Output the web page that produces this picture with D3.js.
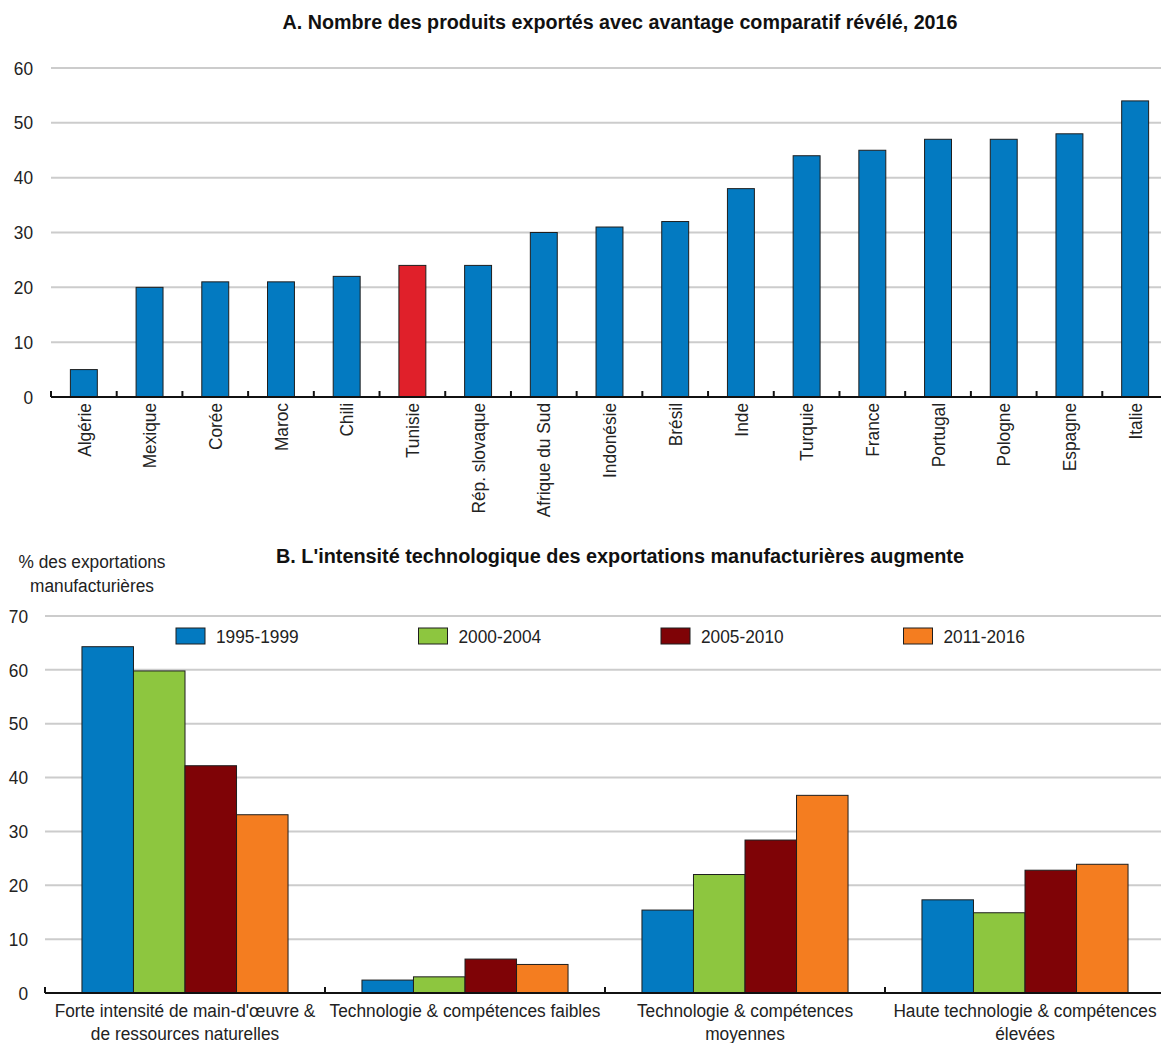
<!DOCTYPE html>
<meta charset="utf-8">
<script src="https://d3js.org/d3.v7.min.js"></script>
<style>
  body { margin: 0; background: #fff; }
  text { font-family: "Liberation Sans", Arial, sans-serif; font-size: 19px; fill: #222; }
  .title { font-weight: bold; font-size: 19.5px; fill: #111; }
  .grid line { stroke: #cccccc; stroke-width: 2px; }
</style>
<div id="chart"></div>
<script>

  // panel A data
  var countries = ["Algérie", "Mexique", "Corée", "Maroc", "Chili", "Tunisie", "Rép. slovaque",
    "Afrique du Sud", "Indonésie", "Brésil", "Inde", "Turquie", "France", "Portugal",
    "Pologne", "Espagne", "Italie"];
  var products = [5, 20, 21, 21, 22, 24, 24, 30, 31, 32, 38, 44, 45, 47, 47, 48, 54];
  var highlight = "Tunisie";
  var ticksA = [0, 10, 20, 30, 40, 50, 60];

  // panel B data
  var groups = [
    ["Forte intensité de main-d'œuvre &", "de ressources naturelles"],
    ["Technologie & compétences faibles"],
    ["Technologie & compétences", "moyennes"],
    ["Haute technologie & compétences", "élevées"]
  ];
  var periods = ["1995-1999", "2000-2004", "2005-2010", "2011-2016"];
  var s1995 = [64.3, 2.4, 15.4, 17.3];
  var s2000 = [59.8, 3.0, 22.0, 14.9];
  var s2005 = [42.2, 6.3, 28.4, 22.8];
  var s2011 = [33.1, 5.3, 36.7, 23.9];
  var ticksB = [0, 10, 20, 30, 40, 50, 60, 70];

  var colors = ["#037ac1", "#8dc63f", "#7f0306", "#f47d20"];
  var sx = 0.91; // narrow the text a bit, like Arial Narrow

  var svg = d3.select("#chart").append("svg")
    .attr("width", 1161)
    .attr("height", 1043);

  function place(x, y, rot) {
    return "translate(" + x + "," + y + ")" + (rot ? " rotate(" + rot + ")" : "") + " scale(" + sx + ",1)";
  }

  // ---------- Panel A ----------
  var xA = d3.scaleBand()
    .domain(countries)
    .range([51, 1168])
    .paddingInner(0.59)
    .paddingOuter(0.295);
  var yA = d3.scaleLinear().domain([0, 60]).range([397, 68]);

  svg.append("text")
    .attr("class", "title")
    .attr("x", 620).attr("y", 29)
    .attr("text-anchor", "middle")
    .attr("textLength", 675)
    .attr("lengthAdjust", "spacingAndGlyphs")
    .text("A. Nombre des produits exportés avec avantage comparatif révélé, 2016");

  svg.append("g").attr("class", "grid")
    .selectAll("line").data(ticksA.filter(function(d) { return d > 0; }))
    .enter().append("line")
      .attr("x1", 51).attr("x2", 1161)
      .attr("y1", function(d) { return yA(d); })
      .attr("y2", function(d) { return yA(d); });

  svg.append("g").selectAll("text").data(ticksA)
    .enter().append("text")
      .attr("transform", function(d) { return place(33, yA(d)); })
      .attr("dy", "0.35em")
      .attr("text-anchor", "end")
      .text(function(d) { return d; });

  svg.append("g").selectAll("rect").data(countries)
    .enter().append("rect")
      .attr("x", function(d) { return xA(d); })
      .attr("y", function(d, i) { return yA(products[i]); })
      .attr("width", xA.bandwidth())
      .attr("height", function(d, i) { return yA(0) - yA(products[i]); })
      .attr("fill", function(d) { return d === highlight ? "#e0202a" : "#037ac1"; })
      .attr("stroke", "#1e1e1e")
      .attr("stroke-width", 1);

  // axis line and ticks
  svg.append("line")
    .attr("x1", 51).attr("x2", 1161)
    .attr("y1", yA(0)).attr("y2", yA(0))
    .attr("stroke", "#111").attr("stroke-width", 2);
  svg.append("g").selectAll("line").data(countries)
    .enter().append("line")
      .attr("x1", function(d) { return xA(d) - xA.step() * 0.295; })
      .attr("x2", function(d) { return xA(d) - xA.step() * 0.295; })
      .attr("y1", yA(0)).attr("y2", yA(0) - 6)
      .attr("stroke", "#111").attr("stroke-width", 2);

  svg.append("g").selectAll("text").data(countries)
    .enter().append("text")
      .attr("transform", function(d) { return place(xA(d) + xA.bandwidth() / 2, yA(0) + 6, -90); })
      .attr("dy", "0.35em")
      .attr("text-anchor", "end")
      .text(function(d) { return d; });

  // ---------- Panel B ----------
  var series = [s1995, s2000, s2005, s2011];
  var idx = d3.range(groups.length);
  var xB = d3.scaleBand()
    .domain(idx)
    .range([45, 1165])
    .paddingInner(0.264)
    .paddingOuter(0.132);
  var xInner = d3.scaleBand().domain(d3.range(periods.length)).range([0, xB.bandwidth()]);
  var yB = d3.scaleLinear().domain([0, 70]).range([993, 616]);

  svg.append("text")
    .attr("class", "title")
    .attr("x", 620).attr("y", 563)
    .attr("text-anchor", "middle")
    .attr("textLength", 688)
    .attr("lengthAdjust", "spacingAndGlyphs")
    .text("B. L'intensité technologique des exportations manufacturières augmente");

  svg.append("text").attr("transform", place(92, 568)).attr("text-anchor", "middle").text("% des exportations");
  svg.append("text").attr("transform", place(92, 592)).attr("text-anchor", "middle").text("manufacturières");

  svg.append("g").attr("class", "grid")
    .selectAll("line").data(ticksB.filter(function(d) { return d > 0; }))
    .enter().append("line")
      .attr("x1", 45).attr("x2", 1161)
      .attr("y1", function(d) { return yB(d); })
      .attr("y2", function(d) { return yB(d); });

  svg.append("g").selectAll("text").data(ticksB)
    .enter().append("text")
      .attr("transform", function(d) { return place(28, yB(d)); })
      .attr("dy", "0.35em")
      .attr("text-anchor", "end")
      .text(function(d) { return d; });

  // legend
  var legend = svg.append("g").selectAll("g").data(periods)
    .enter().append("g")
      .attr("transform", function(d, i) { return "translate(" + (176 + i * 242.5) + ",628)"; });
  legend.append("rect")
    .attr("width", 29).attr("height", 16)
    .attr("fill", function(d, i) { return colors[i]; })
    .attr("stroke", "#1e1e1e").attr("stroke-width", 1);
  legend.append("text")
    .attr("transform", place(40, 8))
    .attr("dy", "0.35em")
    .text(function(d) { return d; });

  var bars = svg.append("g").selectAll("g").data(idx)
    .enter().append("g")
      .attr("transform", function(g) { return "translate(" + xB(g) + ",0)"; });
  bars.selectAll("rect")
    .data(function(g) { return series.map(function(s, k) { return { k: k, v: s[g] }; }); })
    .enter().append("rect")
      .attr("x", function(d) { return xInner(d.k); })
      .attr("y", function(d) { return yB(d.v); })
      .attr("width", xInner.bandwidth())
      .attr("height", function(d) { return yB(0) - yB(d.v); })
      .attr("fill", function(d) { return colors[d.k]; })
      .attr("stroke", "#1e1e1e")
      .attr("stroke-width", 1);

  svg.append("line")
    .attr("x1", 45).attr("x2", 1161)
    .attr("y1", yB(0)).attr("y2", yB(0))
    .attr("stroke", "#111").attr("stroke-width", 2);
  svg.append("g").selectAll("line").data(idx)
    .enter().append("line")
      .attr("x1", function(g) { return xB(g) - xB.step() * 0.132; })
      .attr("x2", function(g) { return xB(g) - xB.step() * 0.132; })
      .attr("y1", yB(0)).attr("y2", yB(0) - 6)
      .attr("stroke", "#111").attr("stroke-width", 2);

  // category labels, one text per line
  idx.forEach(function(g) {
    svg.append("g").selectAll("text").data(groups[g])
      .enter().append("text")
        .attr("transform", function(d, i) { return place(xB(g) + xB.bandwidth() / 2, 1017 + i * 23); })
        .attr("text-anchor", "middle")
        .text(function(d) { return d; });
  });

</script>
